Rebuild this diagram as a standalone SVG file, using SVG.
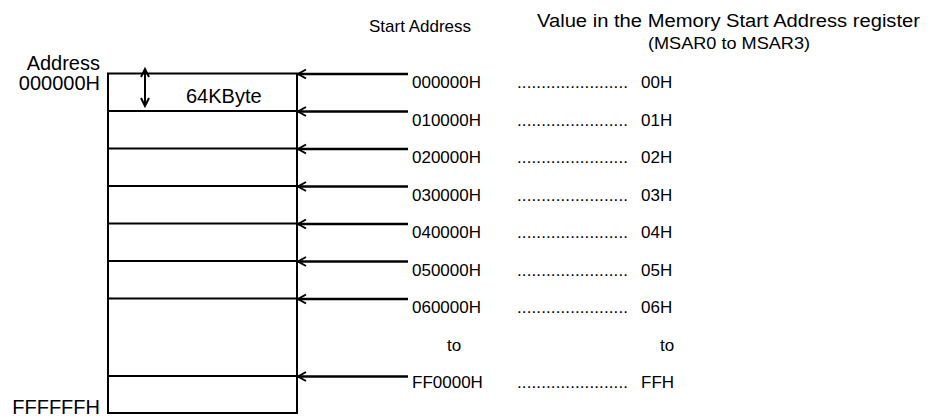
<svg xmlns="http://www.w3.org/2000/svg" width="931" height="418" viewBox="0 0 931 418">
<style>
  text { font-family: "Liberation Sans", Arial, sans-serif; font-size: 17px; fill: #000; }
  .big { font-size: 20px; }
  .hdr { font-size: 18px; }
  .box { fill: #fff; stroke: #000; stroke-width: 2; }
  .div { stroke: #000; stroke-width: 2; fill: none; }
  .conn { stroke: #000; stroke-width: 2.5; fill: none; marker-end: url(#ah); }
  .mid { text-anchor: middle; }
  .end { text-anchor: end; }
</style>
<defs>
  <marker id="ah" markerWidth="12" markerHeight="12" refX="10" refY="6" orient="auto" markerUnits="userSpaceOnUse">
    <path d="M2,1.5 L10,6 L2,10.5" fill="none" stroke="#000" stroke-width="2"/>
  </marker>
  <marker id="dh" markerWidth="12" markerHeight="12" refX="10" refY="6" orient="auto-start-reverse" markerUnits="userSpaceOnUse">
    <path d="M2,2 L10,6 L2,10" fill="none" stroke="#000" stroke-width="2"/>
  </marker>
</defs>

<g id="headers">
  <text x="420" y="32" class="mid">Start Address</text>
  <text x="537" y="27" class="hdr" textLength="383" lengthAdjust="spacingAndGlyphs">Value in the Memory Start Address register</text>
  <text x="648" y="49" textLength="162" lengthAdjust="spacingAndGlyphs">(MSAR0 to MSAR3)</text>
</g>

<g id="memory-map">
  <rect class="box" x="108" y="73.5" width="189" height="339.5"/>
  <line class="div" x1="108" y1="111" x2="297" y2="111"/>
  <line class="div" x1="108" y1="148.5" x2="297" y2="148.5"/>
  <line class="div" x1="108" y1="186" x2="297" y2="186"/>
  <line class="div" x1="108" y1="223.5" x2="297" y2="223.5"/>
  <line class="div" x1="108" y1="261" x2="297" y2="261"/>
  <line class="div" x1="108" y1="298.5" x2="297" y2="298.5"/>
  <line class="div" x1="108" y1="376" x2="297" y2="376"/>
  <line x1="145" y1="69" x2="145" y2="106" stroke="#000" stroke-width="2" marker-start="url(#dh)" marker-end="url(#dh)"/>
  <text x="186" y="103" class="big">64KByte</text>
</g>

<g id="address-labels">
  <text x="100" y="70" class="end big">Address</text>
  <text x="100" y="90" class="end big">000000H</text>
  <text x="100" y="414" class="end big">FFFFFFH</text>
</g>

<g id="connectors">
  <line class="conn" x1="408" y1="74" x2="298" y2="74"/>
  <line class="conn" x1="408" y1="111.5" x2="298" y2="111.5"/>
  <line class="conn" x1="408" y1="149" x2="298" y2="149"/>
  <line class="conn" x1="408" y1="186.5" x2="298" y2="186.5"/>
  <line class="conn" x1="408" y1="224" x2="298" y2="224"/>
  <line class="conn" x1="408" y1="261.5" x2="298" y2="261.5"/>
  <line class="conn" x1="408" y1="299" x2="298" y2="299"/>
  <line class="conn" x1="408" y1="376.5" x2="298" y2="376.5"/>
</g>

<g id="rows">
  <text x="412" y="88">000000H</text><text x="517" y="88" textLength="111">.......................</text><text x="641" y="88">00H</text>
  <text x="412" y="125.5">010000H</text><text x="517" y="125.5" textLength="111">.......................</text><text x="641" y="125.5">01H</text>
  <text x="412" y="163">020000H</text><text x="517" y="163" textLength="111">.......................</text><text x="641" y="163">02H</text>
  <text x="412" y="200.5">030000H</text><text x="517" y="200.5" textLength="111">.......................</text><text x="641" y="200.5">03H</text>
  <text x="412" y="238">040000H</text><text x="517" y="238" textLength="111">.......................</text><text x="641" y="238">04H</text>
  <text x="412" y="275.5">050000H</text><text x="517" y="275.5" textLength="111">.......................</text><text x="641" y="275.5">05H</text>
  <text x="412" y="313">060000H</text><text x="517" y="313" textLength="111">.......................</text><text x="641" y="313">06H</text>
  <text x="454" y="350.5" class="mid">to</text><text x="667" y="350.5" class="mid">to</text>
  <text x="412" y="388">FF0000H</text><text x="517" y="388" textLength="111">.......................</text><text x="641" y="388">FFH</text>
</g>
</svg>
